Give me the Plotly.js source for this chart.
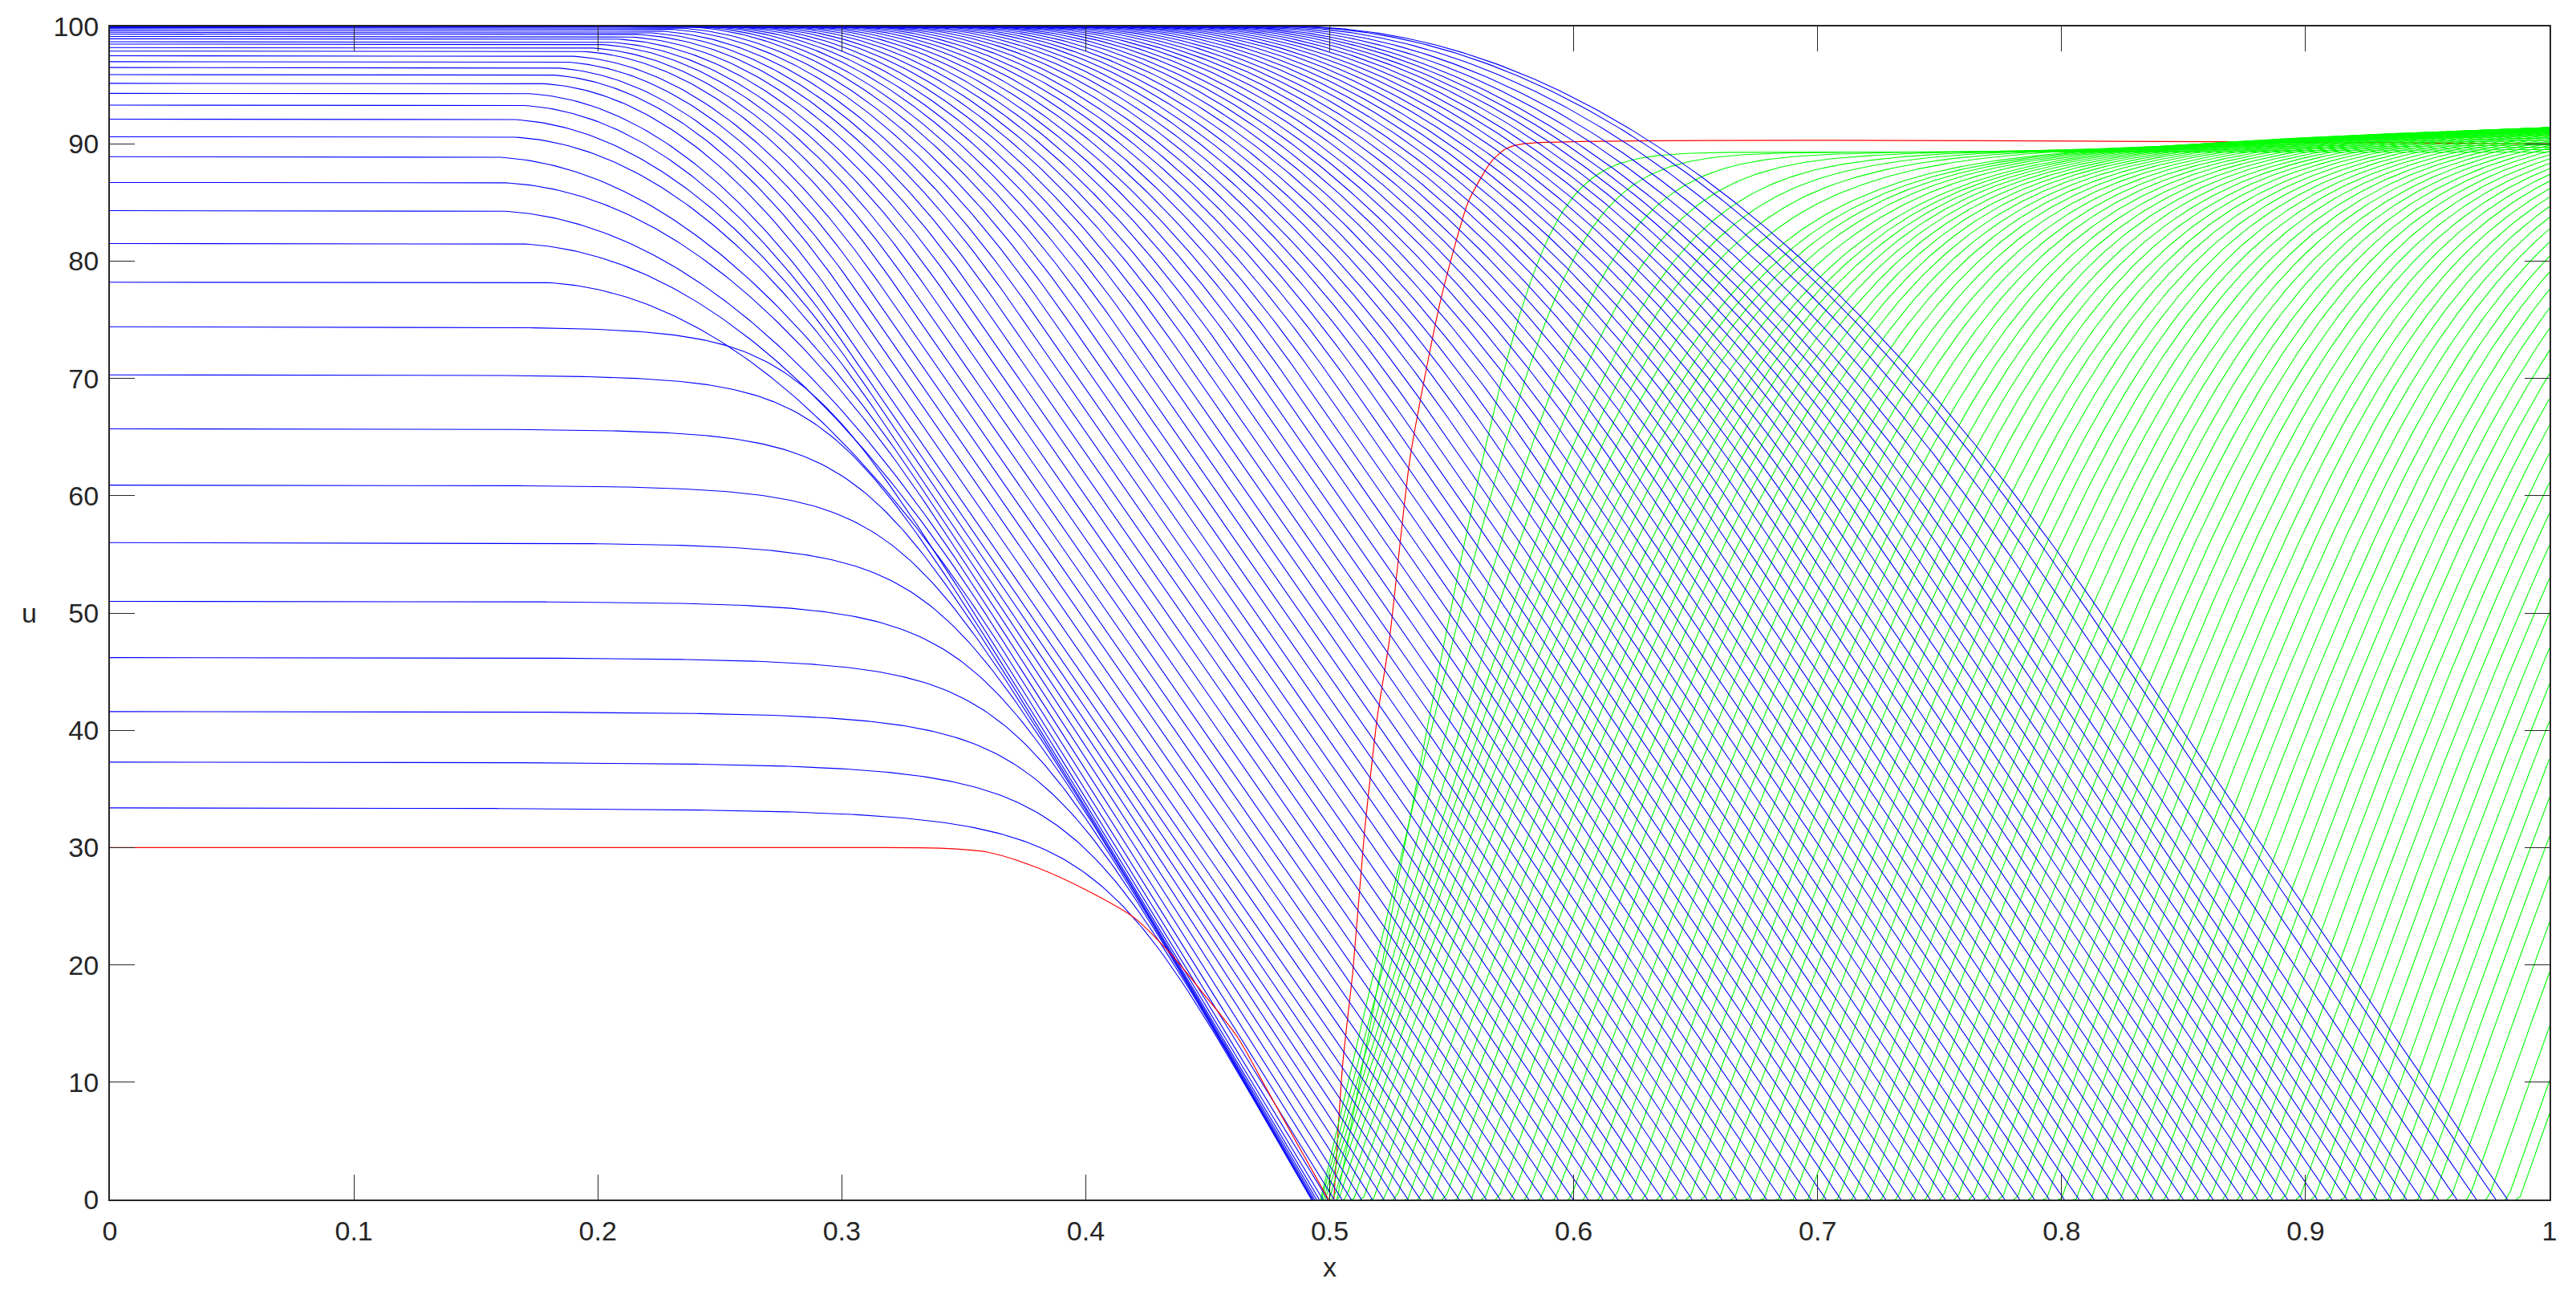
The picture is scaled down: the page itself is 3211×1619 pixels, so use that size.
<!DOCTYPE html>
<html><head><meta charset="utf-8">
<script src="https://cdn.plot.ly/plotly-3.0.1.min.js"></script>
<style>html,body{margin:0;padding:0;background:#fff}#chart{width:3211px;height:1619px}</style>
</head><body><div id="chart"></div>
<script>
// ---- data ----
// blue curves: plateau level at x = 0 (in time order; later curves sit at 100)
const blueLevel = [33.4, 37.3, 41.6, 46.2, 51.0, 56.0, 60.9, 65.7, 70.3, 74.4,
  78.2, 81.5, 84.3, 86.7, 88.9, 90.6, 92.1, 93.3, 94.3, 95.15,
  95.9, 96.5, 97.0, 97.5, 97.9, 98.2, 98.5, 98.7, 98.95, 99.15,
  99.35, 99.5, 99.65, 99.8, 99.9];
const blueTopLevel = 100;
// blue curves: x where each one reaches u = 0
const blueZero = [0.4925, 0.4928, 0.4932, 0.4938, 0.4946, 0.4957, 0.4972, 0.4992, 0.5018, 0.5050,
  0.5088, 0.5130, 0.5175, 0.5222, 0.5271, 0.5321, 0.5372, 0.5424, 0.5477, 0.5531,
  0.5586, 0.5642, 0.5699, 0.5757, 0.5816, 0.5876, 0.5937, 0.5998, 0.6059, 0.6120,
  0.6181, 0.6242, 0.6303, 0.6364, 0.6425, 0.6486, 0.6547, 0.6608, 0.6669, 0.6730,
  0.6791, 0.6852, 0.6913, 0.6974, 0.7035, 0.7096, 0.7157, 0.7218, 0.7279, 0.7340,
  0.7401, 0.7462, 0.7523, 0.7584, 0.7645, 0.7706, 0.7767, 0.7828, 0.7889, 0.7950,
  0.8011, 0.8072, 0.8133, 0.8194, 0.8255, 0.8316, 0.8377, 0.8438, 0.8499, 0.8560,
  0.8621, 0.8682, 0.8743, 0.8804, 0.8865, 0.8926, 0.8987, 0.9048, 0.9109, 0.9170,
  0.9231, 0.9292, 0.9353, 0.9414, 0.9475, 0.9545, 0.9620, 0.9700, 0.9780, 0.9828];
// slope of the straight front part of the blue curves (du/dx), early -> late
const blueSlope = [360, 360, 358, 355, 352, 348, 344, 340, 336, 332, 328, 324, 320, 316, 312, 308, 305, 302, 300];
// early blue curves: sharpness of their long, gently rounded shoulder
const blueShoulder = [3.8, 4.3, 5.0, 5.7, 6.4, 7.2, 8.0, 9.0, 10.0, 11.0];
// later blue curves: half-width (in u) of the rounded corner between plateau and front
const blueCorner = [30, 30, 31, 31, 32, 32, 32, 32, 32, 32,
  32, 32, 32, 29, 28, 24, 23, 21, 20, 19,
  19, 19.5, 19.5, 20, 20, 20.5, 21, 21.5, 22, 22.4,
  22.9, 23.3, 23.8, 24.2, 24.7, 25.1, 25.6, 26, 26.5, 26.9,
  27.4, 27.8, 28.3, 28.7, 29.2, 29.6, 30.1, 30.5, 31, 31.4,
  31.9, 32.3, 32.8, 33.2, 33.7, 34.1, 34.6, 35, 35.5, 35.9,
  36.4, 36.8, 37.3, 37.7, 38.2, 38.6, 39.1, 39.5, 40, 40.4,
  40.9, 41.3, 41.8, 42.2, 42.7, 43.1, 43.6, 44, 44.5, 44.9,
  45.4, 45.8, 46.3, 46.7, 47.2, 47.6, 48.1, 48.5, 49, 49.5];
// green curves: slope of the front part, plateau near the front, value reached at x = 1
const greenSlope = [1100, 900, 800, 740, 700, 680, 665, 655, 645, 635, 628, 622, 616, 610];
const greenCorner = [10, 11, 12, 13, 14, 15, 16, 17, 18];
const greenLevel = 89.3;
const greenRight = [89.3, 89.5, 89.7, 89.9, 90.1, 90.3, 90.5, 90.7, 90.85, 91.0, 91.1, 91.2, 91.3, 91.4];
const greenGap = 0.0035;      // x gap between a blue front and its green front
const greenFirstZero = 0.5030;
// red curves (first time step)
const redLowX = [0, 0.30, 0.34, 0.36, 0.38, 0.40, 0.42, 0.435, 0.448, 0.462, 0.475, 0.4995];
const redLowU = [30, 30, 29.95, 29.6, 28.3, 26.4, 24.0, 20.9, 17.6, 13.9, 9.1, 0];
const redHighX = [0.5017, 0.5053, 0.5096, 0.5142, 0.5195, 0.5244, 0.533, 0.5455, 0.5569, 0.5663, 0.572, 0.5795, 1.0];
const redHighU = [0, 11.5, 19.7, 31.2, 41.1, 47.6, 63.3, 76.7, 85.1, 88.5, 89.55, 90, 90];
const xTicks = [0, 0.1, 0.2, 0.3, 0.4, 0.5, 0.6, 0.7, 0.8, 0.9, 1];
const xTickText = ['0', '0.1', '0.2', '0.3', '0.4', '0.5', '0.6', '0.7', '0.8', '0.9', '1'];
const yTicks = [0, 10, 20, 30, 40, 50, 60, 70, 80, 90, 100];
const yTickText = ['0', '10', '20', '30', '40', '50', '60', '70', '80', '90', '100'];
const xLabel = 'x', yLabel = 'u';

// ---- build curves ----
function cornerMin(L, l, w) {           // plateau L meeting line l with a rounded corner
  if (l >= L + w) return L;
  if (l <= L - w) return l;
  return L - (L + w - l) * (L + w - l) / (4 * w);
}
function pMin(L, l, p) {                // plateau meeting line with a long soft shoulder
  const m = Math.min(L, l), M = Math.max(L, l);
  return m * Math.pow(1 + Math.pow(m / M, p), -1 / p);
}
function smin(a, b, d) {
  const beta = Math.LN2 / d;
  return Math.min(a, b) - Math.log(1 + Math.exp(-beta * Math.abs(a - b))) / beta;
}
const pick = (arr, k) => arr[Math.min(k, arr.length - 1)];
const STEP = 0.002;
const traces = [];
// upper red first (the green curves are drawn over it)
traces.push({x: redHighX, y: redHighU, mode: 'lines', line: {color: '#ff0000', width: 1.2, shape: 'spline', smoothing: 0.6}, hoverinfo: 'skip'});

for (let k = 0; k < blueZero.length; k++) {
  const L = pick(blueLevel.concat([blueTopLevel]), k);
  const b = blueZero[k];
  const s = pick(blueSlope, k);
  const xs = [], ys = [];
  for (let x = 0; x < b; x += STEP) {
    const l = s * (b - x);
    const u = k < blueShoulder.length ? pMin(L, l, blueShoulder[k]) : cornerMin(L, l, blueCorner[k]);
    if (u <= 0) break;
    xs.push(x); ys.push(u);
  }
  xs.push(b); ys.push(0);
  traces.push({x: xs, y: ys, mode: 'lines', line: {color: '#0000ff', width: 1.1}, hoverinfo: 'skip'});

  const z = k === 0 ? greenFirstZero : b + greenGap;
  const sg = pick(greenSlope, k);
  const gR = pick(greenRight, k);
  const dg = pick(greenCorner, k);
  const gx = [z], gy = [0];
  for (let x = Math.ceil(z / STEP) * STEP; x <= 1.0001; x += STEP) {
    const top = greenLevel + (gR - greenLevel) * Math.max(0, (x - 0.72) / 0.28);
    const u = Math.max(0, smin(top, sg * (x - z), dg));
    gx.push(x); gy.push(u);
  }
  traces.push({x: gx, y: gy, mode: 'lines', line: {color: '#00ff00', width: 1.1}, hoverinfo: 'skip'});
}
// lower red on top of the blue bundle
traces.push({x: redLowX, y: redLowU, mode: 'lines', line: {color: '#ff0000', width: 1.2, shape: 'spline', smoothing: 0.8}, hoverinfo: 'skip'});

const axisFont = {family: 'Liberation Sans, Arial, sans-serif', size: 34, color: '#262626'};
const layout = {
  width: 3211, height: 1619,
  margin: {l: 137, r: 33, t: 33, b: 124},
  paper_bgcolor: '#ffffff', plot_bgcolor: '#ffffff',
  showlegend: false,
  xaxis: {range: [0, 1], tickvals: xTicks, ticktext: xTickText, ticks: 'inside', ticklen: 31, tickwidth: 1,
    tickcolor: '#262626', showline: true, linecolor: '#262626', linewidth: 2, mirror: 'ticks',
    showgrid: false, zeroline: false, tickfont: axisFont, ticklabelstandoff: 8},
  yaxis: {range: [0, 100], tickvals: yTicks, ticktext: yTickText, ticks: 'inside', ticklen: 31, tickwidth: 1,
    tickcolor: '#262626', showline: true, linecolor: '#262626', linewidth: 2, mirror: 'ticks',
    showgrid: false, zeroline: false, tickfont: axisFont, ticklabelstandoff: 5},
  annotations: [
    {text: xLabel, xref: 'paper', yref: 'paper', x: 0.5, y: -0.0575, xanchor: 'center', yanchor: 'middle',
     showarrow: false, font: axisFont},
    {text: yLabel, xref: 'paper', yref: 'paper', x: -0.0329, y: 0.5, xanchor: 'center', yanchor: 'middle',
     showarrow: false, font: axisFont}
  ]
};
Plotly.newPlot('chart', traces, layout, {staticPlot: true, displayModeBar: false});
</script>
</body></html>
